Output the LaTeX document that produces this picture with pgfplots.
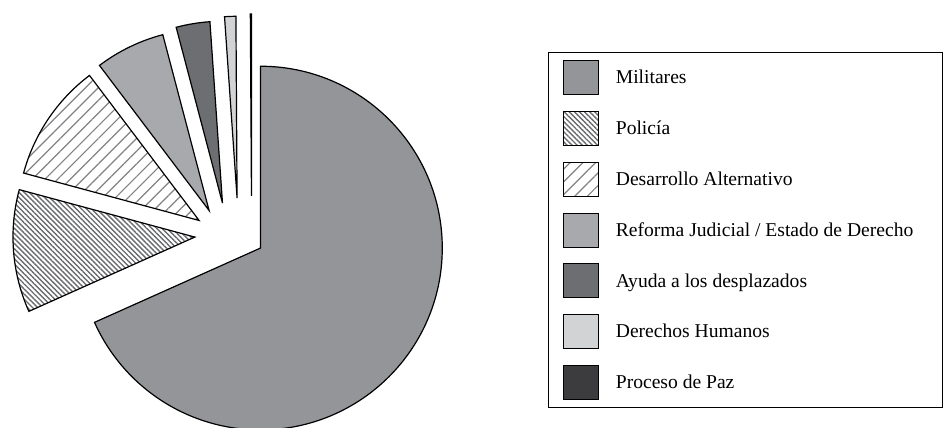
\documentclass[border=0pt]{standalone}
\usepackage{pgfplots}
\pgfplotsset{compat=1.18}
\usepackage{pgfplotstable}
\usetikzlibrary{patterns.meta}
\usepackage{fontspec}
\setmainfont{Liberation Serif}
\definecolor{cMil}{HTML}{939598}
\definecolor{cRef}{HTML}{A7A9AC}
\definecolor{cAyu}{HTML}{6D6E71}
\definecolor{cDer}{HTML}{D1D3D4}
\definecolor{cPaz}{HTML}{3C3C3E}
\definecolor{cHatch}{HTML}{808285}
\definecolor{cHatchD}{HTML}{6A6B6E}
\tikzset{
  slice0/.style={fill=cMil},
  slice1/.style={pattern={Lines[angle=-45,distance=3.6pt,line width=1.4pt]},pattern color=cHatchD},
  slice2/.style={pattern={Lines[angle=45,distance=9pt,line width=1.2pt]},pattern color=cHatch},
  slice3/.style={fill=cRef},
  slice4/.style={fill=cAyu},
  slice5/.style={fill=cDer},
  slice6/.style={fill=cPaz},
}
% value (percent) and apex position of each (exploded) slice
\pgfplotstableread{
idx value ax ay
0 68.3 260.7 179.7
1 10.9 195.0 190.7
2 10.5 199.3 207.3
3 6.2 209.3 217.3
4 3.0 222.7 224.7
5 1.0 237.3 229.7
6 0.1 251.7 232.0
}\slices
\begin{document}
\begin{tikzpicture}
\begin{axis}[
  x=1pt, y=1pt, xmin=0, xmax=943, ymin=0, ymax=428,
  hide axis, clip=true,
  legend image code/.code={\filldraw[#1, draw=black, line width=1pt] (0pt,-17pt) rectangle (35pt,17pt);},
  legend cell align=left,
  legend style={at={(axis cs:549,375.7)}, anchor=north west, draw=black, line width=0.9pt,
    inner xsep=14pt, inner ysep=7pt, row sep=16pt, column sep=15pt,
    font=\fontsize{19.6}{23}\selectfont},
]
\addplot[draw=none, forget plot] coordinates {(0,0) (943,428)};
\pgfplotsextra{
  \gdef\cum{0}
  \foreach \i in {0,...,6}{
    \pgfplotstablegetelem{\i}{value}\of\slices \let\v\pgfplotsretval
    \pgfplotstablegetelem{\i}{ax}\of\slices \let\px\pgfplotsretval
    \pgfplotstablegetelem{\i}{ay}\of\slices \let\py\pgfplotsretval
    \pgfmathsetmacro\aS{90-3.6*\cum}
    \pgfmathsetmacro\aE{90-3.6*(\cum+\v)}
    \filldraw[slice\i, draw=black, line width=1.2pt, line join=miter]
      (axis cs:\px,\py) -- ++(\aS:182pt) arc[start angle=\aS, end angle=\aE, radius=182pt] -- cycle;
    \pgfmathsetmacro\newcum{\cum+\v}
    \xdef\cum{\newcum}
  }
}
\addlegendimage{slice0}\addlegendentry{Militares}
\addlegendimage{slice1}\addlegendentry{Policía}
\addlegendimage{slice2}\addlegendentry{Desarrollo Alternativo}
\addlegendimage{slice3}\addlegendentry{\makebox[311pt][l]{Reforma Judicial / Estado de Derecho}}
\addlegendimage{slice4}\addlegendentry{Ayuda a los desplazados}
\addlegendimage{slice5}\addlegendentry{Derechos Humanos}
\addlegendimage{slice6}\addlegendentry{Proceso de Paz}
\end{axis}
\end{tikzpicture}
\end{document}
